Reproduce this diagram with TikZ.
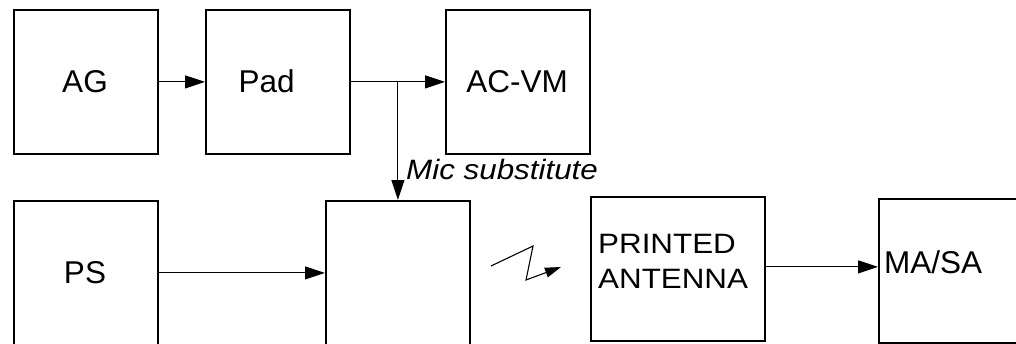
\documentclass[tikz,border=0pt]{standalone}
\usepackage{fontspec}
\setmainfont{Liberation Sans}
\newfontfamily\widefont[FakeStretch=1.12]{Liberation Sans}
\usetikzlibrary{arrows.meta,calc}
\begin{document}
\begin{tikzpicture}[x=1pt,y=-1pt,
  box/.style={draw, line width=1.8pt, minimum width=144pt, minimum height=144pt, inner sep=0pt, anchor=north west},
  lbl/.style={inner sep=0pt, font=\fontsize{31.5}{36}\selectfont},
  wlbl/.style={inner sep=0pt, font=\widefont\fontsize{28}{34}\selectfont},
  wilbl/.style={inner sep=0pt, font=\widefont\itshape\fontsize{28}{34}\selectfont},
  conn/.style={line width=1.1pt, -{Triangle[length=20pt,width=13pt]}},
  zig/.style={line width=1.1pt, line join=miter, -{Triangle[length=16pt,width=10pt]}},
]
\useasboundingbox (0,0) rectangle (1016,343);
% boxes
\node[box] (ag) at (13,9) {};
\node[box] (pad) at (205,9) {};
\node[box] (acvm) at (445,9) {};
\node[box] (ps) at (13,200) {};
\node[box] (mid) at (325,200) {};
\node[box, minimum width=174pt] (pa) at (590,196) {};
\node[box] (masa) at (878,198) {};
% labels
\node[lbl, anchor=base] (agl) at (85,92) {AG};
\node[lbl, anchor=base west] (padl) at (238.5,92) {Pad};
\node[lbl, anchor=base] (acvml) at (517,92) {AC-VM};
\node[lbl, anchor=base] (psl) at (85,283) {PS};
\node[lbl, anchor=base west] (masal) at (884,273) {MA/SA};
\node[wlbl, anchor=base west] (pal1) at (598,253) {PRINTED};
\node[wlbl, anchor=base west] (pal2) at (598,288) {ANTENNA};
\node[wilbl, anchor=base west] (mic) at (406,179) {Mic substitute};
% connectors
\draw[conn] (ag.east) -- (pad.west);
\draw[conn] (pad.east) -- (acvm.west);
\coordinate (j) at ($(pad.east)!0.5!(acvm.west)$);
\draw[conn] (j) -- (j |- mid.north);
\draw[conn] (ps.east) -- (mid.west);
\draw[conn] ([yshift=2pt]pa.east) -- ([yshift=2pt]pa.east -| masa.west);
% wireless zigzag
\coordinate (z1) at (491,266);
\coordinate (z2) at (533,246);
\coordinate (z3) at (526,280);
\coordinate (z4) at (561,267);
\draw[zig] (z1) -- (z2) -- (z3) -- (z4);
\end{tikzpicture}
\end{document}
